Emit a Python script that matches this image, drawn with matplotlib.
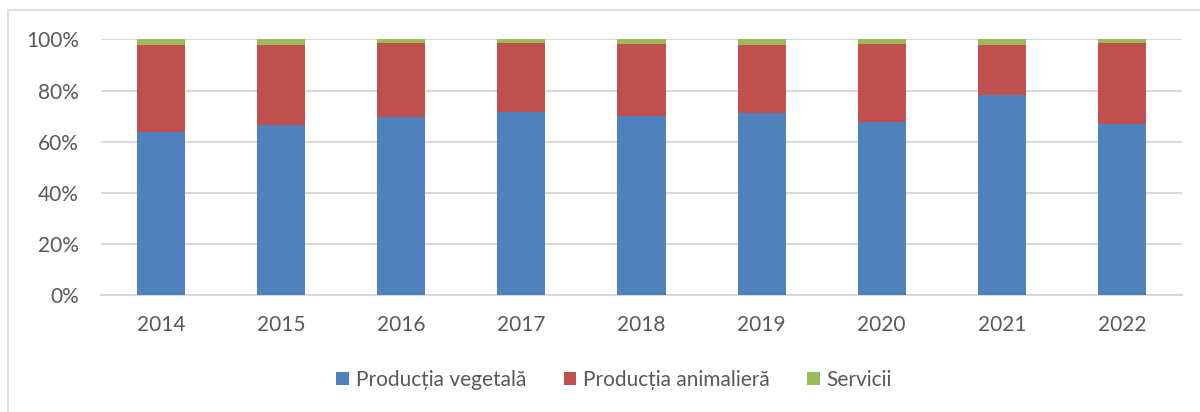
import numpy as np
import matplotlib
matplotlib.use("Agg")
import matplotlib.pyplot as plt
from matplotlib.patches import Rectangle
from matplotlib.ticker import PercentFormatter

# ==================================================
# Daten (Anteile in %)
# ==================================================

years = ["2014", "2015", "2016", "2017", "2018", "2019", "2020", "2021", "2022"]
vegetala = [63.8, 66.5, 69.6, 71.6, 70.1, 71.3, 67.8, 78.2, 67.0]
servicii = [2.1, 2.1, 1.6, 1.6, 1.8, 2.1, 1.7, 2.1, 1.6]
animaliera = [100 - v - s for v, s in zip(vegetala, servicii)]

series_names = ["Producția vegetală", "Producția animalieră", "Servicii"]
colors = ["#4F81BD", "#C0504D", "#9BBB59"]

# ==================================================
# Stil
# ==================================================

plt.rcParams["font.family"] = ["Lato", "DejaVu Sans"]
TEXT_COLOR = "#595959"
GRID_COLOR = "#D9D9D9"
FS = 15

W, H = 1200, 412
fig = plt.figure(figsize=(W / 100, H / 100), dpi=100)
ax = fig.add_axes([101 / W, 1 - 295.3 / H, (1182 - 101) / W, (295.3 - 39.3) / H])

x = np.arange(len(years))
bottom = np.zeros(len(years))
for vals, name, col in zip([vegetala, animaliera, servicii], series_names, colors):
    ax.bar(x, vals, width=0.4, bottom=bottom, color=col, label=name, linewidth=0, zorder=3)
    bottom += np.array(vals)

ax.set_xlim(-0.5, len(years) - 0.5)
ax.set_ylim(0, 100)
ax.set_yticks(np.arange(0, 101, 20))
ax.yaxis.set_major_formatter(PercentFormatter(decimals=0))
ax.set_xticks(x)
ax.set_xticklabels(years)

ax.grid(axis="y", color=GRID_COLOR, linewidth=1.5, zorder=0)
for side in ["top", "right", "left"]:
    ax.spines[side].set_visible(False)
ax.spines["bottom"].set_color(GRID_COLOR)
ax.spines["bottom"].set_linewidth(1.5)
ax.tick_params(axis="both", length=0, labelsize=FS, labelcolor=TEXT_COLOR)
ax.tick_params(axis="y", pad=16)
ax.tick_params(axis="x", pad=14)

# Legende
leg = fig.legend(loc="center", bbox_to_anchor=(614 / W, 1 - 380 / H), ncol=3, frameon=False,
                 fontsize=FS, handlelength=0.62, handleheight=0.62, handletextpad=0.3,
                 columnspacing=1.8, labelcolor=TEXT_COLOR)

# Rahmen des Diagrammbereichs
fig.patches.append(Rectangle((8 / W, -0.1), 1.2, 1 - 10 / H + 0.1, transform=fig.transFigure,
                             fill=False, edgecolor=GRID_COLOR, linewidth=1.2))

fig.savefig("out.png", dpi=100)
